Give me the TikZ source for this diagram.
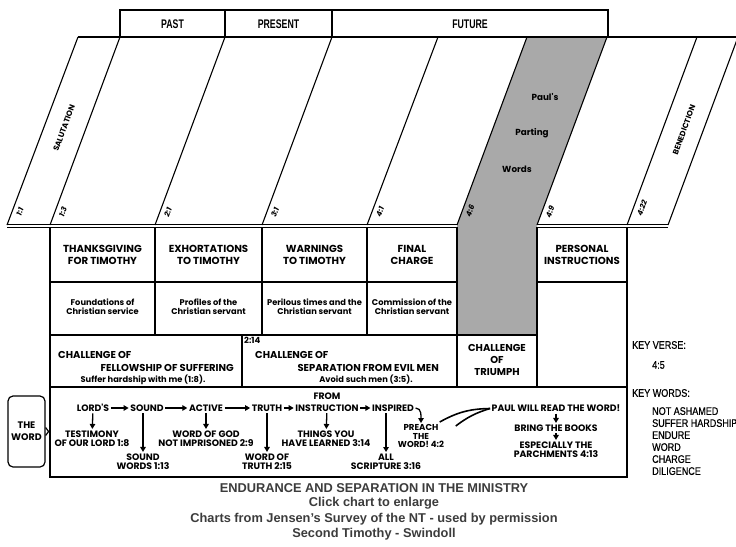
\documentclass[tikz,border=0pt]{standalone}
\usepackage{fontspec}
\setmainfont{Liberation Sans}
\newfontfamily\fut{Poppins}
\newfontfamily\cond[FakeStretch=0.82,FakeBold=0.6]{Liberation Sans}
\newfontfamily\condb[FakeStretch=0.7]{Liberation Sans}
\usetikzlibrary{arrows.meta}
\definecolor{bandgray}{HTML}{A9A9A9}
\definecolor{capgray}{HTML}{3C3C3C}
\tikzset{
  ln/.style={line width=1.1pt},
  era/.style={font=\condb\bfseries\fontsize{12.5}{14}\selectfont, inner sep=0pt},
  head/.style={font=\fut\bfseries\fontsize{10.2}{12}\selectfont, align=center, inner sep=0pt},
  head3/.style={font=\fut\bfseries\fontsize{10}{12}\selectfont, align=center, inner sep=0pt},
  sub/.style={font=\fut\bfseries\fontsize{8.3}{9}\selectfont, align=center, inner sep=0pt},
  slant/.style={font=\fut\bfseries\fontsize{7.8}{8}\selectfont, rotate=69.8, inner sep=0pt},
  vlab/.style={font=\fut\bfseries\itshape\fontsize{7.5}{8}\selectfont, rotate=69.8, inner sep=0pt},
  band/.style={font=\fut\bfseries\fontsize{8.8}{10}\selectfont, inner sep=0pt},
  wd/.style={font=\fut\bfseries\fontsize{9.3}{9}\selectfont, align=center, inner sep=1.5pt},
  arr/.style={line width=1.3pt, -{Triangle[length=5pt,width=5.5pt]}},
  key/.style={font=\cond\fontsize{11}{12}\selectfont, anchor=west, inner sep=0pt, align=left},
  captxt/.style={font=\bfseries\fontsize{12.8}{15.5}\selectfont, text=capgray, inner sep=0pt}
}
\begin{document}
\begin{tikzpicture}[x=1pt,y=-1pt]
\useasboundingbox (0,0) rectangle (736,546);
\fill[white] (0,0) rectangle (736,546);

% gray band
\fill[bandgray] (457,225) -- (527,37) -- (607,37) -- (537,225) -- (537,335) -- (457,335) -- cycle;

% top strip
\draw[ln] (120,37) -- (120,10) -- (608,10) -- (608,37);
\draw[ln] (225,10) -- (225,37);
\draw[ln] (332,10) -- (332,37);
\node[era] (past) at (172.5,24) {PAST};
\node[era] (present) at (278.5,24) {PRESENT};
\node[era] (future) at (470,24) {FUTURE};

% top line and slant lines
\draw[ln] (78,37) -- (740,37);
\foreach \b/\t in {7/78,50/120,155/225,262/332,367/438,457/527,537/607,627/697,668/738}
  \draw[ln] (\b,225) -- (\t,37);
\draw[line width=1.3pt] (7,224.8) -- (457,224.8);
\draw[line width=0.9pt] (7,227.6) -- (457,227.6);
\draw[line width=1.3pt] (537,224.8) -- (668,224.8);
\draw[line width=0.9pt] (537,227.6) -- (668,227.6);

% slanted labels
\node[slant] (salut) at (64,128) {SALUTATION};
\node[slant] (bened) at (684,130) {BENEDICTION};
\node[vlab] (v11) at (20,212) {1:1};
\node[vlab] (v13) at (63,212) {1:3};
\node[vlab] (v21) at (168,212) {2:1};
\node[vlab] (v31) at (275,212) {3:1};
\node[vlab] (v41) at (380,212) {4:1};
\node[vlab] (v46) at (470,211) {4:6};
\node[vlab] (v49) at (550,212) {4:9};
\node[vlab] (v422) at (642,208) {4:22};
\node[band] (pauls) at (545,97) {Paul's};
\node[band] (parting) at (532,133) {Parting};
\node[band] (words) at (517,169) {Words};

% table lines
\draw[ln] (50,227) -- (50,477) -- (627,477) -- (627,227);
\draw[ln] (50,282) -- (457,282);
\draw[ln] (537,282) -- (627,282);
\draw[ln] (50,335) -- (537,335);
\draw[ln] (50,387) -- (627,387);
\foreach \x in {155,262,367} \draw[ln] (\x,227) -- (\x,335);
\draw[ln] (457,227) -- (457,387);
\draw[ln] (537,227) -- (537,387);
\draw[ln] (242,335) -- (242,387);

% row 1
\node[head] (r1a) at (102.5,255) {THANKSGIVING\\FOR TIMOTHY};
\node[head] (r1b) at (208.5,255) {EXHORTATIONS\\TO TIMOTHY};
\node[head] (r1c) at (314.5,255) {WARNINGS\\TO TIMOTHY};
\node[head] (r1d) at (412,255) {FINAL\\CHARGE};
\node[head] (r1e) at (582,255) {PERSONAL\\INSTRUCTIONS};
% row 2
\node[sub] (r2a) at (102.5,307) {Foundations of\\Christian service};
\node[sub] (r2b) at (208.5,307) {Profiles of the\\Christian servant};
\node[sub] (r2c) at (314.5,307) {Perilous times and the\\Christian servant};
\node[sub] (r2d) at (412,307) {Commission of the\\Christian servant};
% row 3
\node[head3, anchor=west] (c1a) at (58,355) {CHALLENGE OF};
\node[head3, anchor=east] (c1b) at (234,368) {FELLOWSHIP OF SUFFERING};
\node[sub] (c1c) at (143,380) {Suffer hardship with me (1:8).};
\node[head3, font=\fut\bfseries\fontsize{8.5}{10}\selectfont, anchor=north west] (c2n) at (244,336.5) {2:14};
\node[head3, anchor=west] (c2a) at (255,355) {CHALLENGE OF};
\node[head3, anchor=east] (c2b) at (439,368) {SEPARATION FROM EVIL MEN};
\node[sub] (c2c) at (366,380) {Avoid such men (3:5).};
\node[head3] (c3) at (497,360) {CHALLENGE\\OF\\TRIUMPH};

% the word box
\node[draw, line width=1.2pt, rounded corners=5pt, minimum width=37pt, minimum height=71pt, inner sep=0pt,
      font=\fut\bfseries\fontsize{9.5}{12}\selectfont, align=center] (theword) at (26.5,431.5) {THE\\WORD};
\draw[line width=1.2pt] (theword.east) ++(0,4) -- ++(3,-4) -- ++(-3,-4);

% row 4 words
\node[wd] (lords) at (93,408) {LORD'S};
\node[wd] (sound) at (147,408) {SOUND};
\node[wd] (active) at (206,408) {ACTIVE};
\node[wd] (truth) at (267,408) {TRUTH};
\node[wd] (instr) at (327,408) {INSTRUCTION};
\node[wd] (from) at (327,396.5) {FROM};
\node[wd] (insp) at (393,408) {INSPIRED};
\node[wd, font=\fut\bfseries\fontsize{8.6}{8.2}\selectfont] (preach) at (421,436) {PREACH\\THE\\WORD! 4:2};
\node[wd] (paul) at (556,408.5) {PAUL WILL READ THE WORD!};
\node[wd] (test) at (92,438.5) {TESTIMONY\\OF OUR LORD 1:8};
\node[wd] (soundw) at (143,461.5) {SOUND\\WORDS 1:13};
\node[wd] (wog) at (206,438.5) {WORD OF GOD\\NOT IMPRISONED 2:9};
\node[wd] (wot) at (267,461.5) {WORD OF\\TRUTH 2:15};
\node[wd] (things) at (326,438.5) {THINGS YOU\\HAVE LEARNED 3:14};
\node[wd] (all) at (386,461.5) {ALL\\SCRIPTURE 3:16};
\node[wd] (bring) at (556,428) {BRING THE BOOKS};
\node[wd] (esp) at (556,449.5) {ESPECIALLY THE\\PARCHMENTS 4:13};

\draw[arr] (lords) -- (sound);
\draw[arr] (sound) -- (active);
\draw[arr] (active) -- (truth);
\draw[arr] (truth) -- (instr);
\draw[arr] (instr) -- (insp);
\draw[arr] (lords) -- (test);
\draw[arr] (sound.south -| soundw.north) -- (soundw.north);
\draw[arr] (active) -- (wog);
\draw[arr] (truth) -- (wot);
\draw[arr] (instr) -- (things);
\draw[arr] (insp.south -| all.north) -- (all.north);
\draw[arr] (insp.east) to[out=0, in=90] (preach.north);
\draw[line width=1.6pt] (preach.north east) ++(-6,-1) coordinate (w1) to[bend left=14] (paul.west);
\draw[line width=1.6pt] (preach.north east) ++(10,3) coordinate (w2) to[bend left=10] (paul.west);
\draw[arr] (paul) -- (bring);
\draw[arr] (bring) -- (esp);

% key verse / words
\node[key] (kv) at (632,345) {KEY VERSE:};
\node[key] (kv2) at (652,365) {4:5};
\node[key] (kw) at (632,393) {KEY WORDS:};
\node[key, anchor=north west] (kwl) at (652,407) {NOT ASHAMED\\SUFFER HARDSHIP\\ENDURE\\WORD\\CHARGE\\DILIGENCE};

% caption
\node[captxt] (cap1) at (374,488) {ENDURANCE AND SEPARATION IN THE MINISTRY};
\node[captxt] (cap2) at (374,503.5) {Click chart to enlarge};
\node[captxt] (cap3) at (374,519) {Charts from Jensen's Survey of the NT - used by permission};
\node[captxt] (cap4) at (374,534.5) {Second Timothy - Swindoll};
\end{tikzpicture}
\end{document}
